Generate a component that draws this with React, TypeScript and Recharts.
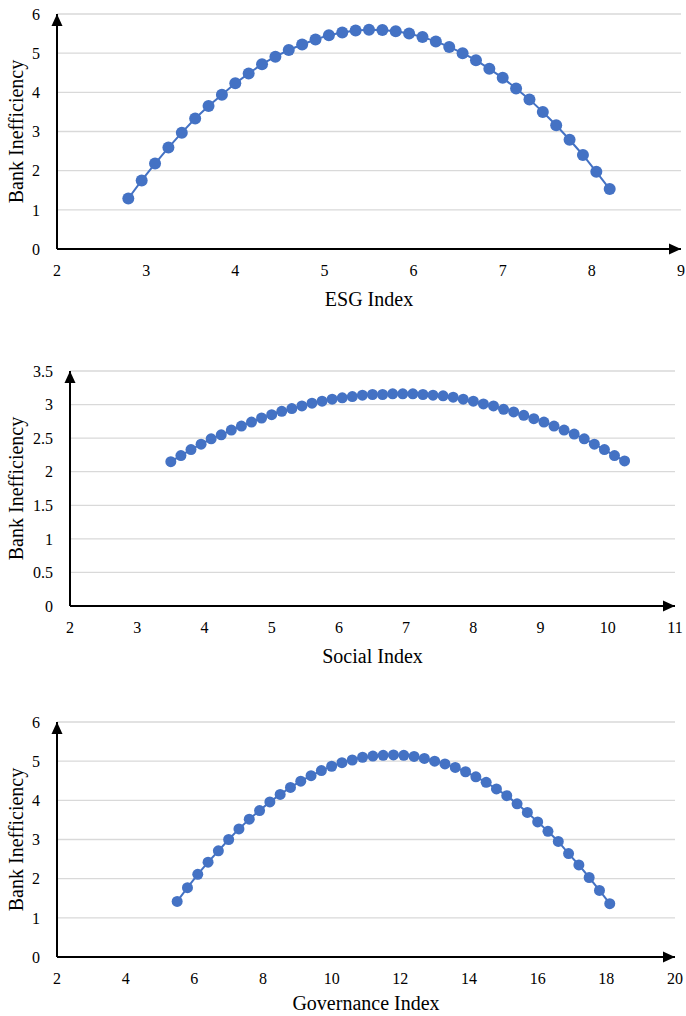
import React from 'react';
import { LineChart, Line, XAxis, YAxis, CartesianGrid, ReferenceDot, Label } from 'recharts';

const esgIndex = [2.8, 2.95, 3.1, 3.25, 3.4, 3.55, 3.7, 3.85, 4.0, 4.15, 4.3, 4.45, 4.6, 4.75, 4.9, 5.05, 5.2, 5.35, 5.5, 5.65, 5.8, 5.95, 6.1, 6.25, 6.4, 6.55, 6.7, 6.85, 7.0, 7.15, 7.3, 7.45, 7.6, 7.75, 7.9, 8.05, 8.2];
const esgIneff = [1.29, 1.75, 2.18, 2.59, 2.97, 3.33, 3.65, 3.94, 4.23, 4.48, 4.72, 4.91, 5.08, 5.22, 5.35, 5.46, 5.53, 5.58, 5.6, 5.59, 5.56, 5.5, 5.41, 5.3, 5.16, 5.0, 4.82, 4.6, 4.37, 4.1, 3.82, 3.5, 3.16, 2.79, 2.4, 1.97, 1.53];

const socialIndex = [3.5, 3.65, 3.8, 3.95, 4.1, 4.25, 4.4, 4.55, 4.7, 4.85, 5.0, 5.15, 5.3, 5.45, 5.6, 5.75, 5.9, 6.05, 6.2, 6.35, 6.5, 6.65, 6.8, 6.95, 7.1, 7.25, 7.4, 7.55, 7.7, 7.85, 8.0, 8.15, 8.3, 8.45, 8.6, 8.75, 8.9, 9.05, 9.2, 9.35, 9.5, 9.65, 9.8, 9.95, 10.1, 10.25];
const socialIneff = [2.15, 2.24, 2.33, 2.41, 2.49, 2.55, 2.62, 2.68, 2.74, 2.8, 2.85, 2.9, 2.94, 2.98, 3.02, 3.05, 3.08, 3.1, 3.12, 3.14, 3.15, 3.15, 3.16, 3.16, 3.16, 3.15, 3.14, 3.13, 3.11, 3.08, 3.05, 3.01, 2.98, 2.93, 2.89, 2.84, 2.79, 2.74, 2.68, 2.62, 2.56, 2.49, 2.41, 2.33, 2.24, 2.16];

const govIndex = [5.5, 5.8, 6.1, 6.4, 6.7, 7.0, 7.3, 7.6, 7.9, 8.2, 8.5, 8.8, 9.1, 9.4, 9.7, 10.0, 10.3, 10.6, 10.9, 11.2, 11.5, 11.8, 12.1, 12.4, 12.7, 13.0, 13.3, 13.6, 13.9, 14.2, 14.5, 14.8, 15.1, 15.4, 15.7, 16.0, 16.3, 16.6, 16.9, 17.2, 17.5, 17.8, 18.1];
const govIneff = [1.42, 1.77, 2.11, 2.42, 2.71, 3.0, 3.27, 3.52, 3.74, 3.96, 4.15, 4.33, 4.49, 4.63, 4.76, 4.87, 4.96, 5.03, 5.1, 5.13, 5.15, 5.16, 5.15, 5.12, 5.07, 5.0, 4.93, 4.84, 4.73, 4.6, 4.46, 4.29, 4.12, 3.91, 3.69, 3.45, 3.21, 2.95, 2.64, 2.35, 2.03, 1.7, 1.36];

const esgXTicks = [2, 3, 4, 5, 6, 7, 8, 9];
const esgYTicks = [0, 1, 2, 3, 4, 5, 6];
const socialXTicks = [2, 3, 4, 5, 6, 7, 8, 9, 10, 11];
const socialYTicks = [0, 0.5, 1, 1.5, 2, 2.5, 3, 3.5];
const govXTicks = [2, 4, 6, 8, 10, 12, 14, 16, 18, 20];
const govYTicks = [0, 1, 2, 3, 4, 5, 6];

const yTitle = 'Bank Inefficiency';
const esgTitle = 'ESG Index';
const socialTitle = 'Social Index';
const govTitle = 'Governance Index';

const BLUE = '#4472C4';
const FONT = '"Liberation Serif", "Times New Roman", serif';

const zip = (xs: number[], ys: number[]) => xs.map((x, i) => ({ x, y: ys[i] }));

function ArrowRight(props: any) {
  const { cx, cy } = props;
  return <polygon points={`${cx},${cy} ${cx - 12},${cy - 5.5} ${cx - 12},${cy + 5.5}`} fill="#000" />;
}
function ArrowUp(props: any) {
  const { cx, cy } = props;
  return <polygon points={`${cx},${cy} ${cx - 5.5},${cy + 12} ${cx + 5.5},${cy + 12}`} fill="#000" />;
}

function XTick(props: any) {
  const { x, y, payload } = props;
  return (
    <text x={x} y={y} dy="0.71em" textAnchor="middle" fontSize={16} fill="#000" fontFamily={FONT} style={{ fontFamily: FONT }}>
      {String(payload.value)}
    </text>
  );
}
function YTick(props: any) {
  const { x, y, payload } = props;
  return (
    <text x={x} y={y} dy="0.355em" textAnchor="end" fontSize={16} fill="#000" fontFamily={FONT} style={{ fontFamily: FONT }}>
      {String(payload.value)}
    </text>
  );
}

const makeXTitle = (text: string, off: number) => (props: any) => {
  const vb = props.viewBox || {};
  return (
    <text x={vb.x + vb.width / 2} y={vb.y + off} textAnchor="middle" fontSize={20} fill="#000" fontFamily={FONT}>
      {text}
    </text>
  );
};
const makeYTitle = (text: string) => (props: any) => {
  const vb = props.viewBox || {};
  const cy = vb.y + vb.height / 2;
  return (
    <text x={23} y={cy} transform={`rotate(-90, 23, ${cy})`} textAnchor="middle" fontSize={20} fill="#000" fontFamily={FONT}>
      {text}
    </text>
  );
};

function Panel(p: any) {
  const data = zip(p.xs, p.ys);
  return (
    <div style={{ position: 'absolute', left: 0, top: p.top }}>
      <LineChart width={686} height={p.height} data={data} margin={p.margin} style={{ fontFamily: FONT }}>
        <CartesianGrid vertical={false} stroke="#d9d9d9" strokeWidth={1.3} />
        <XAxis
          dataKey="x"
          type="number"
          domain={p.xDomain}
          ticks={p.xTicks}
          interval={0}
          height={p.xHeight}
          axisLine={{ stroke: '#000', strokeWidth: 2 }}
          tickLine={false}
          tickSize={0}
          tickMargin={16}
          tick={XTick}
        >
          <Label content={makeXTitle(p.xTitle, p.titleOff)} />
        </XAxis>
        <YAxis
          type="number"
          domain={p.yDomain}
          ticks={p.yTicks}
          interval={0}
          width={p.yWidth}
          axisLine={{ stroke: '#000', strokeWidth: 2 }}
          tickLine={false}
          tickSize={0}
          tickMargin={17}
          tick={YTick}
        >
          <Label content={makeYTitle(yTitle)} />
        </YAxis>
        <Line
          type="linear"
          dataKey="y"
          stroke={BLUE}
          strokeWidth={2}
          dot={{ r: p.r, fill: BLUE, stroke: BLUE, strokeWidth: 0 }}
          activeDot={false}
          isAnimationActive={false}
        />
        <ReferenceDot x={p.xDomain[1]} y={p.yDomain[0]} shape={ArrowRight} ifOverflow="visible" />
        <ReferenceDot x={p.xDomain[0]} y={p.yDomain[1]} shape={ArrowUp} ifOverflow="visible" />
      </LineChart>
    </div>
  );
}

export default function App() {
  return (
    <div style={{ position: 'absolute', left: 0, top: 0, width: 686, height: 1016, background: '#fff', fontFamily: FONT }}>
      <Panel
        top={0}
        height={320}
        margin={{ top: 14, right: 5, left: 0, bottom: 0 }}
        xHeight={71}
        yWidth={57}
        xs={esgIndex}
        ys={esgIneff}
        xDomain={[2, 9]}
        xTicks={esgXTicks}
        yDomain={[0, 6]}
        yTicks={esgYTicks}
        xTitle={esgTitle}
        titleOff={57}
        r={6}
      />
      <Panel
        top={330}
        height={340}
        margin={{ top: 41, right: 11, left: 0, bottom: 0 }}
        xHeight={64}
        yWidth={70}
        xs={socialIndex}
        ys={socialIneff}
        xDomain={[2, 11]}
        xTicks={socialXTicks}
        yDomain={[0, 3.5]}
        yTicks={socialYTicks}
        xTitle={socialTitle}
        titleOff={57}
        r={5.5}
      />
      <Panel
        top={700}
        height={316}
        margin={{ top: 22, right: 11, left: 0, bottom: 0 }}
        xHeight={59}
        yWidth={57}
        xs={govIndex}
        ys={govIneff}
        xDomain={[2, 20]}
        xTicks={govXTicks}
        yDomain={[0, 6]}
        yTicks={govYTicks}
        xTitle={govTitle}
        titleOff={53}
        r={5.5}
      />
    </div>
  );
}
